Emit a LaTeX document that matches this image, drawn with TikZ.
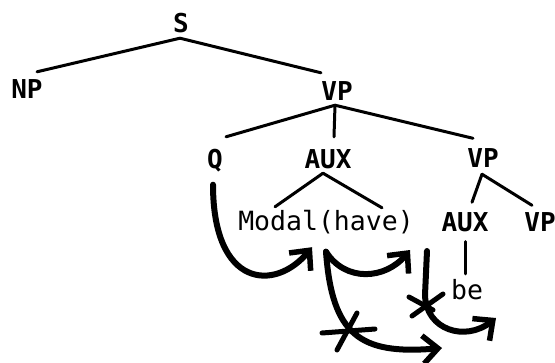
\documentclass[tikz,border=0pt]{standalone}
\usepackage{fontspec}
\newfontfamily\treefont{DejaVu Sans Mono}
\usetikzlibrary{calc,arrows.meta}
\begin{document}
\begin{tikzpicture}[x=1pt,y=-1pt,
  lbl/.style={inner sep=0pt,text height=19pt,text depth=0pt,font=\treefont\bfseries\fontsize{26}{26}\selectfont},
  word/.style={lbl,font=\treefont\fontsize{26.5}{26.5}\selectfont},
  branch/.style={line width=3pt,line cap=round},
  move/.style={line width=6pt,line cap=round,-{Straight Barb[length=15pt,width=28pt,line width=5.5pt]}},
  block/.style={line width=5pt,line cap=round}]
\useasboundingbox (0,0) rectangle (555,362);

% category labels
\node[lbl] (S)     at (181,23)  {S};
\node[lbl] (NP)    at (27,89)   {NP};
\node[lbl] (VP1)   at (337,91)  {VP};
\node[lbl] (Q)     at (215,159) {Q};
\node[lbl] (AUX1)  at (328,159) {AUX};
\node[lbl] (VP2)   at (483,158) {VP};
\node[word] (Modal) at (326,221) {Modal(have)};
\node[lbl] (AUX2)  at (465,222) {AUX};
\node[lbl] (VP3)   at (540,222) {VP};
\node[word] (be)    at (467,290) {be};

% tree branches
\draw[branch] ($(S.south)+(-1,5.5)$) -- ($(NP.north)+(10,-7.5)$);
\draw[branch] ($(S.south)+(-1,5.5)$) -- ($(VP1.north)+(-16,-8.5)$);
\draw[branch] ($(VP1.south)+(-2,4.5)$) -- ($(Q.north)+(11,-12.5)$);
\draw[branch] ($(VP1.south)+(-2,4.5)$) -- ($(AUX1.north)+(6,-12.5)$);
\draw[branch] ($(VP1.south)+(-2,4.5)$) -- ($(VP2.north)+(-10,-10)$);
\draw[branch] ($(AUX1.south)+(-5,4.5)$) -- ($(Modal.north)+(-51,-4.5)$);
\draw[branch] ($(AUX1.south)+(-5,4.5)$) -- ($(Modal.north)+(56,-3.5)$);
\draw[branch] ($(VP2.south)+(-1,6.5)$) -- ($(AUX2.north)+(7,-10)$);
\draw[branch] ($(VP2.south)+(-1,6.5)$) -- ($(VP3.north)+(-8,-7)$);
\draw[branch] ($(AUX2.south)+(0,10)$) -- ($(be.north)+(-2,-6.5)$);

% movement arrows
\coordinate (qfoot) at ($(Q.south)+(-2,16)$);
\coordinate (mfoot) at ($(Modal.south)+(-14,16.5)$);
\coordinate (hfoot) at ($(Modal.south)+(0,21)$);
\coordinate (afoot) at (410,250);
\coordinate (bfoot) at (427,251);
\coordinate (low)   at (442,348);
\coordinate (right) at (496,318);

\draw[move] (qfoot) .. controls (213,288) and (275,292) .. (mfoot);
\draw[move] (hfoot) .. controls (345,282) and (385,280) .. (afoot);
\draw[move] (hfoot) .. controls (332,335) and (360,355) .. (low);
\draw[move] (bfoot) -- (425,295) .. controls (426,330) and (465,342) .. (right);

% blocked paths
\draw[block] (322,333) -- (375,329);
\draw[block] (337,350) -- (357,313);
\draw[block] (409,297) -- (433,310);
\draw[block] (412,316) -- (443,294);
\end{tikzpicture}
\end{document}
